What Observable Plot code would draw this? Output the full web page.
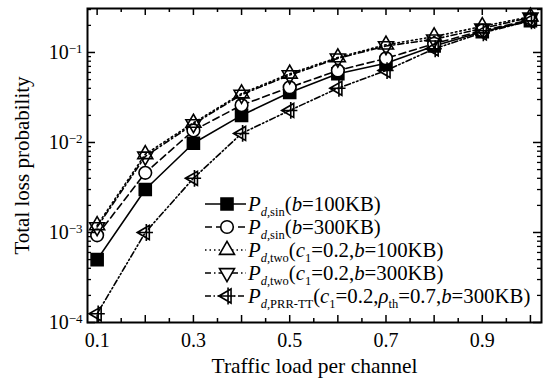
<!DOCTYPE html>
<html>
<head>
<meta charset="utf-8">
<script src="https://cdn.jsdelivr.net/npm/d3@7"></script>
<script src="https://cdn.jsdelivr.net/npm/@observablehq/plot@0.6"></script>
<style>
  html, body { margin: 0; padding: 0; background: #fff; }
  #chart svg { display: block; }
</style>
</head>
<body>
<div id="chart"></div>
<script>
// ---------- data ----------
const loads   = [0.1, 0.2, 0.3, 0.4, 0.5, 0.6, 0.7, 0.8, 0.9, 1.0];
const pSin100 = [5.0e-4, 3.0e-3, 9.8e-3, 0.020, 0.036, 0.058, 0.076, 0.118, 0.170, 0.225];
const pSin300 = [9.3e-4, 4.6e-3, 0.0136, 0.026, 0.041, 0.063, 0.086, 0.125, 0.175, 0.230];
const pTwo100 = [1.2e-3, 7.4e-3, 0.0165, 0.035, 0.058, 0.088, 0.122, 0.150, 0.195, 0.250];
const pTwo300 = [1.15e-3, 7.0e-3, 0.0160, 0.034, 0.056, 0.086, 0.118, 0.140, 0.185, 0.245];
const pPrr    = [1.25e-4, 1.0e-3, 4.0e-3, 0.0126, 0.0227, 0.040, 0.063, 0.110, 0.165, 0.225];

const xTickLabels = [0.1, 0.3, 0.5, 0.7, 0.9];
const xMajorTicks = [0.1, 0.2, 0.3, 0.4, 0.5, 0.6, 0.7, 0.8, 0.9, 1.0];
const xMinorTicks = [0.15, 0.25, 0.35, 0.45, 0.55, 0.65, 0.75, 0.85, 0.95];
const yTicks      = [1e-4, 1e-3, 1e-2, 1e-1];
const yTickExp    = ["\u22124", "\u22123", "\u22122", "\u22121"];
const yMinorTicks = [2e-4,3e-4,4e-4,5e-4,6e-4,7e-4,8e-4,9e-4,
                     2e-3,3e-3,4e-3,5e-3,6e-3,7e-3,8e-3,9e-3,
                     2e-2,3e-2,4e-2,5e-2,6e-2,7e-2,8e-2,9e-2,
                     2e-1,3e-1];

const xTitle = "Traffic load per channel";
const yTitle = "Total loss probability";

// legend entries: segments [text, italic, subscript]
const legendRows = [
  [["P",1,0],["d",1,1],[",sin",0,1],["(",0,0],["b",1,0],["=100KB)",0,0]],
  [["P",1,0],["d",1,1],[",sin",0,1],["(",0,0],["b",1,0],["=300KB)",0,0]],
  [["P",1,0],["d",1,1],[",two",0,1],["(",0,0],["c",1,0],["1",0,1],["=0.2,",0,0],["b",1,0],["=100KB)",0,0]],
  [["P",1,0],["d",1,1],[",two",0,1],["(",0,0],["c",1,0],["1",0,1],["=0.2,",0,0],["b",1,0],["=300KB)",0,0]],
  [["P",1,0],["d",1,1],[",PRR-TT",0,1],["(",0,0],["c",1,0],["1",0,1],["=0.2,",0,0],["\u03C1",1,0],["th",0,1],["=0.7,",0,0],["b",1,0],["=300KB)",0,0]]
];

// ---------- symbols ----------
const rOf = size => Math.sqrt(size / Math.PI);
const symSquare = {draw(c, size){ const r = rOf(size); c.rect(-r, -r, 2*r, 2*r); }};
const symUp = {draw(c, size){ const r = rOf(size);
  c.moveTo(0, -1.155*r); c.lineTo(r, 0.577*r); c.lineTo(-r, 0.577*r); c.closePath(); }};
const symDown = {draw(c, size){ const r = rOf(size);
  c.moveTo(0, 1.155*r); c.lineTo(r, -0.577*r); c.lineTo(-r, -0.577*r); c.closePath(); }};
const symLeft = {draw(c, size){ const r = rOf(size);
  c.moveTo(-1.155*r, 0); c.lineTo(0.577*r, -r); c.lineTo(0.577*r, r); c.closePath();
  c.moveTo(-1.155*r, 0); c.lineTo(1.1*r, 0);
  c.moveTo(0.15*r, -1.2*r); c.lineTo(0.15*r, 1.2*r); }};

const series = [
  {values: pSin100, dash: null,                  symbol: symSquare, r: 6,   fill: "black"},
  {values: pSin300, dash: "7,4",                 symbol: "circle",  r: 6.3, fill: "white"},
  {values: pTwo100, dash: "1.5,3",               symbol: symUp,     r: 7.5, fill: "none"},
  {values: pTwo300, dash: "6,3,1.5,3",           symbol: symDown,   r: 7.5, fill: "none"},
  {values: pPrr,    dash: "6,2.5,1.5,2.5,1.5,2.5", symbol: symLeft, r: 7,   fill: "none"}
];
const tables = series.map(s => loads.map((x, i) => ({x, y: s.values[i]})));

// ---------- layout ----------
const W = 559, H = 385, mL = 87, mR = 18, mT = 8, mB = 63;
const pW = W - mL - mR, pH = H - mT - mB;
const font = "'Liberation Serif', 'Times New Roman', serif";

const marks = [];
series.forEach((s, k) => {
  marks.push(Plot.line(tables[k], {x: "x", y: "y", stroke: "black", strokeWidth: 1.6,
    strokeDasharray: s.dash}));
});
series.forEach((s, k) => {
  marks.push(Plot.dot(tables[k], {x: "x", y: "y", symbol: s.symbol, r: s.r, fill: s.fill,
    stroke: "black", strokeWidth: 1.6}));
});
// inward ticks
marks.push(
  Plot.tickX(xMajorTicks, {x: d => d, insetTop: pH - 7, stroke: "black", strokeWidth: 1.5}),
  Plot.tickX(xMajorTicks, {x: d => d, insetBottom: pH - 7, stroke: "black", strokeWidth: 1.5}),
  Plot.tickX(xMinorTicks, {x: d => d, insetTop: pH - 4, stroke: "black", strokeWidth: 1.5}),
  Plot.tickX(xMinorTicks, {x: d => d, insetBottom: pH - 4, stroke: "black", strokeWidth: 1.5}),
  Plot.tickY(yTicks, {y: d => d, insetRight: pW - 8, stroke: "black", strokeWidth: 1.5}),
  Plot.tickY(yTicks, {y: d => d, insetLeft: pW - 8, stroke: "black", strokeWidth: 1.5}),
  Plot.tickY(yMinorTicks, {y: d => d, insetRight: pW - 4, stroke: "black", strokeWidth: 1.3}),
  Plot.tickY(yMinorTicks, {y: d => d, insetLeft: pW - 4, stroke: "black", strokeWidth: 1.3}),
  Plot.frame({stroke: "black", strokeWidth: 2}),
  Plot.axisX(xTickLabels, {tickSize: 0, tickPadding: 10, fontSize: 20, label: null,
    tickFormat: d => d.toFixed(1)}),
  Plot.axisY(yTicks, {tickSize: 0, tickPadding: 5, fontSize: 20, label: null,
    tickFormat: (d, i) => "10|" + yTickExp[yTicks.indexOf(d)]}),
  Plot.text([xTitle], {frameAnchor: "bottom", dy: 50, fontSize: 21.5, text: d => d,
    textAnchor: "middle"}),
  Plot.text([yTitle], {frameAnchor: "left", dx: -65, rotate: -90, fontSize: 21, text: d => d,
    textAnchor: "middle"})
);

const chart = Plot.plot({
  width: W, height: H,
  marginLeft: mL, marginRight: mR, marginTop: mT, marginBottom: mB,
  style: {fontFamily: font, color: "black", background: "white", overflow: "visible"},
  x: {domain: [0.08, 1.023]},
  y: {type: "log", domain: [1e-4, 0.308]},
  marks
});
document.getElementById("chart").appendChild(chart);

const svg = d3.select(chart);
svg.selectAll("text").attr("fill", "black");

// superscripts on y tick labels
svg.selectAll('g[aria-label="y-axis tick label"] text').each(function() {
  const t = d3.select(this);
  const parts = t.text().split("|");
  if (parts.length < 2) return;
  t.text(null);
  t.append("tspan").text(parts[0]);
  t.append("tspan").attr("dy", "-0.45em").attr("font-size", 13).text(parts[1]);
});

// ---------- legend ----------
const leg = svg.append("g").attr("font-family", font).attr("fill", "black")
  .attr("text-anchor", "start");
const rowY = [204, 227, 250, 273, 296];
const lx0 = 205, lx1 = 246, lmx = 227, tx = 248;
series.forEach((s, k) => {
  const y = rowY[k];
  leg.append("line").attr("x1", lx0).attr("x2", lx1).attr("y1", y).attr("y2", y)
    .attr("stroke", "black").attr("stroke-width", 1.6)
    .attr("stroke-dasharray", s.dash);
  const sym = typeof s.symbol === "string" ? d3.symbolCircle : s.symbol;
  leg.append("path")
    .attr("d", d3.symbol(sym, s.r * s.r * Math.PI)())
    .attr("transform", `translate(${lmx},${y})`)
    .attr("fill", s.fill === "none" ? "white" : s.fill)
    .attr("stroke", "black").attr("stroke-width", 1.6);
  const t = leg.append("text").attr("x", tx).attr("y", y + 6.8).attr("font-size", 20.8)
    .attr("text-anchor", "start");
  let sub = false;
  legendRows[k].forEach(([txt, it, sb]) => {
    const ts = t.append("tspan").text(txt);
    if (it) ts.attr("font-style", "italic");
    if (sb && !sub) { ts.attr("dy", 5); sub = true; }
    else if (!sb && sub) { ts.attr("dy", -5); sub = false; }
    if (sb) ts.attr("font-size", 12.5);
  });
});
</script>
</body>
</html>
